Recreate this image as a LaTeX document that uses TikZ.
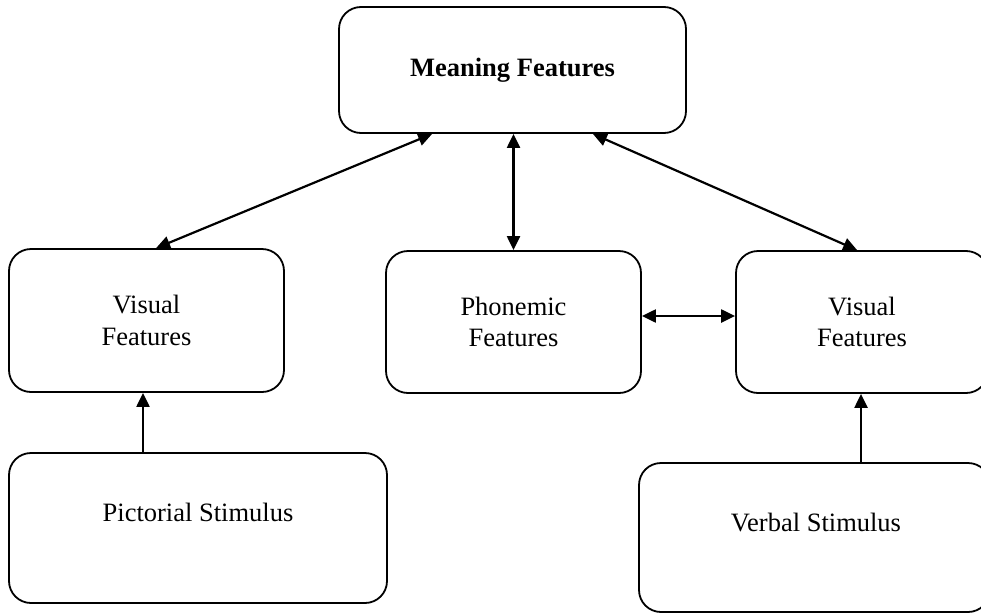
\documentclass[tikz,border=0pt]{standalone}
\usepackage{fontspec}
\setmainfont{Liberation Serif}
\usetikzlibrary{arrows.meta,calc}
\tikzset{
  box/.style={draw, line width=1.8pt, rounded corners=22pt, inner sep=0pt, align=center,
    font=\fontsize{26.5}{31.8}\selectfont},
  lbl/.style={inner sep=0pt, font=\fontsize{26.5}{31.8}\selectfont},
  conn/.style={line width=2.2pt, -{Triangle[length=14pt,width=13pt]}},
  dconn/.style={line width=2.2pt, {Triangle[length=14pt,width=13pt]}-{Triangle[length=14pt,width=13pt]}}
}
\begin{document}
\begin{tikzpicture}[x=1pt,y=-1pt]
\useasboundingbox (0,0) rectangle (981,613);
\clip (0,0) rectangle (981,613);
\fill[white] (0,0) rectangle (981,613);
\node[box, minimum width=347pt, minimum height=126pt, font=\fontsize{26.5}{31.8}\selectfont\bfseries] (meaning) at (512.5,70) {Meaning Features};
\node[box, minimum width=275pt, minimum height=143pt] (visL) at (146.5,320.5) {Visual\\Features};
\node[box, minimum width=255pt, minimum height=142pt] (phon) at (513.5,322) {Phonemic\\Features};
\node[box, minimum width=252pt, minimum height=142pt] (visR) at (862,322) {Visual\\Features};
\node[box, minimum width=378pt, minimum height=150pt] (pict) at (198,528) {};
\node[box, minimum width=351pt, minimum height=149pt] (verb) at (814.5,537.5) {};
\node[lbl] (pictlbl) at ($(pict.center)+(0,-16)$) {Pictorial Stimulus};
\node[lbl] (verblbl) at ($(verb.center)+(1.5,-15)$) {Verbal Stimulus};
\draw[dconn] ($(meaning.south west)+(94,0)$) -- ($(visL.north west)+(148,0)$);
\draw[dconn] (meaning.south -| phon.north) -- (phon.north);
\draw[dconn] ($(meaning.south east)+(-94,0)$) -- ($(visR.north west)+(122,0)$);
\draw[dconn] ($(phon.east)+(0,-6)$) -- ($(visR.west)+(0,-6)$);
\draw[conn] ($(pict.north)+(-55,0)$) -- ($(visL.south)+(-3.5,0)$);
\draw[conn] ($(verb.north)+(46.5,0)$) -- ($(visR.south)+(-1,0)$);
\end{tikzpicture}
\end{document}
